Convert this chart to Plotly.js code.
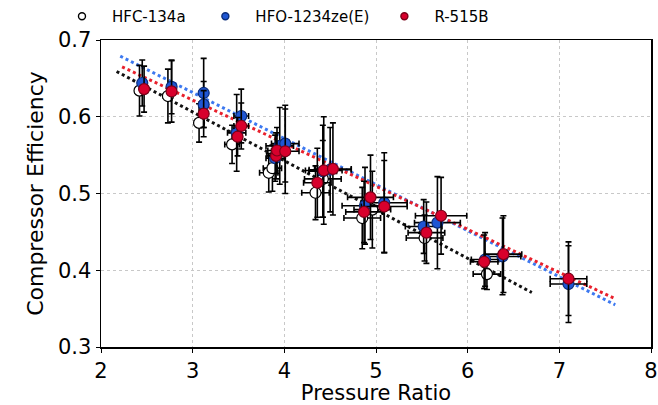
<!DOCTYPE html>
<html>
<head>
<meta charset="utf-8">
<script src="https://cdn.plot.ly/plotly-3.0.1.min.js"></script>
<style>html,body{margin:0;padding:0;background:#fff;}#chart{width:658px;height:405px;}</style>
</head>
<body>
<div id="chart"></div>
<script>
// Series names
var seriesNames = ["HFC-134a", "HFO-1234ze(E)", "R-515B"];

// HFC-134a
var x134a = [2.42, 2.73, 3.07, 3.43, 3.83, 3.87, 4.34, 4.42, 4.85, 4.96, 5.53, 6.21];
var y134a = [0.634, 0.627, 0.592, 0.564, 0.527, 0.533, 0.501, 0.519, 0.468, 0.479, 0.442, 0.395];
var ey134a = [0.033, 0.035, 0.025, 0.025, 0.025, 0.03, 0.035, 0.05, 0.04, 0.05, 0.03, 0.02];
var ex134a = [0.05, 0.05, 0.05, 0.08, 0.1, 0.1, 0.15, 0.2, 0.2, 0.2, 0.2, 0.15];

// HFO-1234ze(E)
var xze = [2.45, 2.77, 3.12, 3.12, 3.48, 3.53, 3.90, 3.95, 4.01, 4.42, 4.50, 4.88, 5.09, 5.52, 5.67, 6.19, 6.38, 7.10];
var yze = [0.644, 0.639, 0.631, 0.616, 0.579, 0.601, 0.546, 0.562, 0.565, 0.529, 0.531, 0.484, 0.488, 0.457, 0.462, 0.414, 0.418, 0.382];
var eyze = [0.03, 0.035, 0.045, 0.03, 0.05, 0.035, 0.03, 0.05, 0.05, 0.06, 0.055, 0.05, 0.065, 0.035, 0.06, 0.035, 0.05, 0.05];
var exze = [0.03, 0.03, 0.03, 0.05, 0.1, 0.08, 0.1, 0.15, 0.15, 0.15, 0.23, 0.25, 0.25, 0.2, 0.25, 0.15, 0.2, 0.2];

// R-515B
var x515 = [2.47, 2.77, 3.12, 3.49, 3.53, 3.91, 3.92, 4.01, 4.36, 4.43, 4.53, 4.87, 4.94, 5.09, 5.55, 5.71, 6.18, 6.39, 7.10];
var y515 = [0.636, 0.633, 0.604, 0.574, 0.588, 0.549, 0.556, 0.555, 0.514, 0.530, 0.532, 0.476, 0.495, 0.483, 0.449, 0.471, 0.411, 0.421, 0.389];
var ey515 = [0.03, 0.04, 0.03, 0.025, 0.03, 0.03, 0.03, 0.055, 0.045, 0.07, 0.06, 0.04, 0.055, 0.06, 0.04, 0.05, 0.035, 0.05, 0.048];
var ex515 = [0.03, 0.03, 0.03, 0.05, 0.08, 0.1, 0.1, 0.15, 0.15, 0.2, 0.2, 0.2, 0.25, 0.25, 0.2, 0.28, 0.15, 0.2, 0.2];

// Linear fit lines (endpoints)
var fitX134a = [2.17, 6.70], fitY134a = [0.659, 0.371];
var fitXze = [2.21, 7.61], fitYze = [0.679, 0.355];
var fitX515 = [2.23, 7.59], fitY515 = [0.665, 0.364];

var FONT = "DejaVu Sans, sans-serif";
var cols = {w: "#ffffff", b: "#1f56d3", r: "#d8002c"};
var edges = {w: "#000000", b: "#0b2d7a", r: "#7a0018"};

function fit(x, y, c) {
  return {x: x, y: y, mode: "lines", type: "scatter", showlegend: false, hoverinfo: "skip",
    line: {color: c, width: 3, dash: "dot"}};
}
function pts(x, y, ex, ey, k) {
  return {x: x, y: y, mode: "markers", type: "scatter", showlegend: false,
    marker: {size: 11, color: cols[k], line: {color: edges[k], width: 1.2}},
    error_y: {type: "data", array: ey, visible: true, color: "#000", thickness: 1.6, width: 3},
    error_x: {type: "data", array: ex, visible: true, color: "#000", thickness: 1.6, width: 3}};
}
function leg(name, k) {
  return {x: [null], y: [null], mode: "markers", type: "scatter", name: name, showlegend: true,
    marker: {size: 7, color: cols[k], line: {color: edges[k], width: 1.4}}};
}

var data = [
  fit(fitX134a, fitY134a, "#111111"),
  fit(fitXze, fitYze, "#3c78f0"),
  fit(fitX515, fitY515, "#e8202c"),
  pts(x134a, y134a, ex134a, ey134a, "w"),
  pts(xze, yze, exze, eyze, "b"),
  pts(x515, y515, ex515, ey515, "r"),
  leg(seriesNames[0] + "\u00a0", "w"),
  leg(seriesNames[1], "b"),
  leg(seriesNames[2], "r")
];

var layout = {
  width: 658, height: 405,
  margin: {l: 101, r: 7, t: 40, b: 58},
  paper_bgcolor: "#fff", plot_bgcolor: "#fff",
  font: {family: FONT, color: "#000"},
  showlegend: true,
  legend: {orientation: "h", xref: "container", yref: "container", x: 0.079, y: 1.0, xanchor: "left", yanchor: "top",
    font: {size: 15, family: FONT}, itemwidth: 50, bgcolor: "rgba(0,0,0,0)"},
  xaxis: {range: [2, 8], dtick: 1, tick0: 2, showline: true, mirror: true, linecolor: "#000", linewidth: 1.5,
    ticks: "outside", ticklen: 4, tickcolor: "#000", showgrid: true, gridcolor: "#c8c8c8", griddash: "dot", gridwidth: 1,
    zeroline: false, tickfont: {size: 21, family: FONT}, automargin: false,
    title: {text: "Pressure Ratio", font: {size: 21, family: FONT}, standoff: 2}},
  yaxis: {range: [0.3, 0.7], dtick: 0.1, tick0: 0.3, tickformat: ".1f", showline: true, mirror: true, linecolor: "#000", linewidth: 1.5,
    ticks: "outside", ticklen: 4, tickcolor: "#000", showgrid: true, gridcolor: "#c8c8c8", griddash: "dot", gridwidth: 1,
    zeroline: false, tickfont: {size: 21, family: FONT}, automargin: false,
    title: {text: "Compressor Efficiency", font: {size: 22, family: FONT}, standoff: 8}}
};

Plotly.newPlot("chart", data, layout, {staticPlot: true, displayModeBar: false});
</script>
</body>
</html>
